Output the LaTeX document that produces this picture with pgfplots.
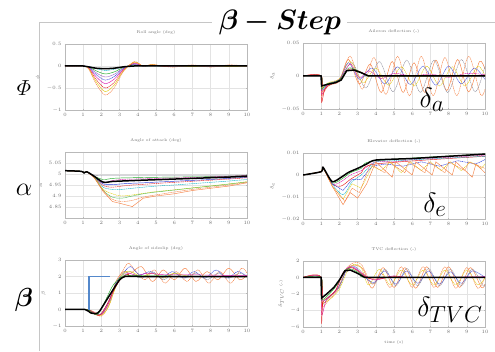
\documentclass[border=0pt]{standalone}
\usepackage{amsmath,bm}
\usepackage{pgfplots}
\pgfplotsset{compat=1.18}
\usepackage{pgfplotstable}

\definecolor{cR}{RGB}{230,30,30}
\definecolor{cO}{RGB}{245,130,70}
\definecolor{cY}{RGB}{225,205,20}
\definecolor{cG}{RGB}{30,170,40}
\definecolor{cB}{RGB}{40,60,220}
\definecolor{cM}{RGB}{220,20,170}
\definecolor{cC}{RGB}{20,180,200}
\definecolor{cP}{RGB}{130,50,180}
\definecolor{cK}{RGB}{140,140,155}
\definecolor{stepblue}{RGB}{84,136,203}
\definecolor{txt}{RGB}{110,110,110}

\tikzset{
 ln/.style={line width=0.45pt, smooth, tension=0.5},
 sl/.style={line width=0.45pt},
 ds/.style={dash pattern=on 1.2pt off 0.6pt},
 dt/.style={dash pattern=on 0.5pt off 0.5pt},
 bk/.style={black, line width=1.5pt},
}
\pgfplotsset{
 sub/.style={scale only axis, width=182pt, height=66pt, anchor=south west,
  xmin=0, xmax=10, xtick={0,1,...,10},
  grid=major, major grid style={gray!22, line width=0.25pt},
  axis line style={gray!55, line width=0.3pt},
  major tick length=1.2pt, tick style={gray!55, line width=0.3pt},
  tick label style={font=\fontsize{3.6}{4}\selectfont, text=txt},
  title style={font=\fontsize{4}{4.5}\selectfont, text=txt},
  ylabel style={font=\fontsize{4}{4.5}\selectfont, text=txt},
  xlabel style={font=\fontsize{4}{4.5}\selectfont, text=txt},
  scaled ticks=false,
  /pgf/number format/fixed, /pgf/number format/precision=2,
 },
}

\pgfplotstableread{
t a b c d e f g h k
0 0 0 0 0 0 0 0 0 0
1 0 0 0 0 0 0 0 0 0
1.3 -0.01 -0.018 -0.025 -0.032 -0.04 -0.05 -0.058 -0.066 -0.02
1.7 -0.06 -0.108 -0.15 -0.19 -0.24 -0.30 -0.35 -0.40 -0.05
2.2 -0.10 -0.18 -0.25 -0.32 -0.40 -0.50 -0.58 -0.66 -0.06
2.7 -0.075 -0.135 -0.19 -0.24 -0.30 -0.375 -0.435 -0.50 -0.05
3.2 -0.02 -0.036 -0.05 -0.064 -0.08 -0.10 -0.116 -0.13 -0.02
3.8 0.015 0.027 0.038 0.048 0.06 0.075 0.087 0.10 0
4.3 0 0 0 0 0 0 0 0 0
4.8 0.006 0.011 0.015 0.019 0.024 0.03 0.035 0.04 0
5.3 0 0 0 0 0 0 0 0 0
6 0 0 0 0 0 0 0.01 -0.025 0
7 0 0 0 0 0 0 -0.01 0.025 0
8 0 0 0 0 0 0 0.01 -0.025 0
9 0 0 0 0 0 0 -0.01 0.025 0
10 0 0 0 0 0 0 0 0 0
}\rollT

\pgfplotstableread{
t k u1 u2 u3 u4 u5 u6 u7 u8 u9 u10
0 5.015 5.015 5.015 5.015 5.015 5.015 5.015 5.015 5.015 5.015 5.015
0.9 5.012 5.012 5.012 5.012 5.012 5.012 5.012 5.012 5.012 5.012 5.012
1.05 5.005 5.005 5.005 5.005 5.005 5.005 5.005 5.005 5.005 5.005 5.005
1.2 5.01 5.01 5.01 5.01 5.01 5.01 5.01 5.01 5.01 5.01 5.01
1.6 4.99 4.995 4.99 4.99 4.988 4.987 4.986 4.985 4.985 4.984 4.984
2.1 4.963 4.995 4.975 4.96 4.955 4.948 4.94 4.93 4.925 4.92 4.925
2.6 4.966 4.995 4.98 4.97 4.952 4.94 4.93 4.91 4.895 4.875 4.885
3.1 4.968 4.995 4.982 4.975 4.955 4.945 4.93 4.90 4.89 4.865 4.875
3.7 4.970 4.995 4.983 4.977 4.958 4.95 4.935 4.905 4.90 4.852 4.88
4.3 4.972 4.995 4.984 4.978 4.96 4.953 4.94 4.912 4.91 4.89 4.895
5 4.974 4.995 4.985 4.98 4.963 4.957 4.945 4.92 4.918 4.9 4.905
6 4.977 4.995 4.986 4.982 4.967 4.962 4.95 4.928 4.927 4.91 4.918
7 4.98 4.995 4.987 4.984 4.971 4.967 4.956 4.937 4.936 4.925 4.93
8 4.983 4.995 4.988 4.987 4.975 4.972 4.962 4.946 4.945 4.935 4.94
9 4.986 4.995 4.99 4.99 4.98 4.977 4.968 4.955 4.954 4.945 4.95
10 4.99 4.995 4.993 4.993 4.985 4.983 4.975 4.965 4.964 4.96 4.962
}\aoaT

\begin{document}
\begin{tikzpicture}
\useasboundingbox (0,0) rectangle (495pt,351pt);
% frame and big labels
\draw[gray!45, line width=0.8pt] (39pt,0pt) -- (39pt,329pt) -- (212pt,329pt);
\draw[gray!45, line width=0.8pt] (347pt,329pt) -- (495pt,329pt);
\node[scale=1.13, inner sep=0pt] at (280pt,329pt) {\fontsize{24.88}{26}\selectfont $\boldsymbol{\beta - Step}$};
\node[scale=1.05] at (24pt,263pt) {\fontsize{20.74}{22}\selectfont $\varPhi$};
\node[scale=1.05] at (24pt,161pt) {\fontsize{24.88}{26}\selectfont $\alpha$};
\node[scale=1.05] at (24pt,51pt) {\fontsize{24.88}{26}\selectfont $\boldsymbol{\beta}$};

% ---------- Roll angle
\begin{axis}[sub, at={(65pt,241pt)}, ymin=-1, ymax=0.5, ytick={-1,-0.5,0,0.5},
  title={Roll angle (deg)}, ylabel={$\phi$}]
\addplot[ln,cC,ds] table[x=t,y=a]{\rollT};
\addplot[ln,cG] table[x=t,y=b]{\rollT};
\addplot[ln,cP,dt] table[x=t,y=c]{\rollT};
\addplot[ln,cB,ds] table[x=t,y=d]{\rollT};
\addplot[ln,cM] table[x=t,y=e]{\rollT};
\addplot[ln,cR,ds] table[x=t,y=f]{\rollT};
\addplot[ln,cY] table[x=t,y=g]{\rollT};
\addplot[ln,cO,ds] table[x=t,y=h]{\rollT};
\addplot[bk,smooth,tension=0.5] table[x=t,y=k]{\rollT};
\end{axis}

% ---------- Aileron
\begin{axis}[sub, at={(303pt,242pt)}, ymin=-0.05, ymax=0.05, ytick={-0.05,0,0.05},
  title={Aileron deflection (-)}, ylabel={$\delta_a$}]
\addplot[ln,cO,ds] coordinates {(0,0)(1,0)(1.02,-0.03)(1.4,-0.014)(2,-0.008)(2.6,0.03)(3.25,-0.02)(3.9,0.028)(4.55,-0.028)(5.2,0.03)(5.85,-0.03)(6.5,0.03)(7.15,-0.03)(7.8,0.028)(8.45,-0.03)(9.1,0.03)(9.75,-0.028)(10,-0.02)};
\addplot[ln,cO] coordinates {(0,0)(1,0)(1.02,-0.025)(1.4,-0.012)(2,-0.006)(2.5,0.025)(3.1,-0.012)(3.7,0.018)(4.3,-0.025)(4.9,0.022)(5.5,-0.025)(6.1,0.02)(6.7,-0.025)(7.3,0.024)(7.9,-0.022)(8.5,0.025)(9.1,-0.024)(9.7,0.022)(10,0.01)};
\addplot[ln,cK,ds] coordinates {(0,0)(1,0)(1.02,-0.02)(1.4,-0.012)(2,-0.005)(2.7,0.02)(3.45,-0.018)(4.2,0.022)(4.95,-0.024)(5.7,0.024)(6.45,-0.025)(7.2,0.024)(7.95,-0.025)(8.7,0.025)(9.45,-0.024)(10,0.015)};
\addplot[ln,cY,ds] coordinates {(0,0)(1,0)(1.02,-0.018)(1.4,-0.01)(2,-0.004)(2.6,0.022)(3.3,-0.01)(4,0.012)(4.7,-0.014)(5.4,0.014)(6.1,-0.015)(6.8,0.015)(7.5,-0.015)(8.2,0.014)(8.9,-0.015)(9.6,0.015)(10,0)};
\addplot[ln,cB,dt] coordinates {(0,0)(1,0)(1.02,-0.022)(1.4,-0.012)(2,-0.006)(2.5,0.02)(3.1,-0.005)(3.8,0.012)(4.5,-0.012)(5.2,0.014)(5.9,-0.013)(6.6,0.015)(7.3,-0.014)(8,0.015)(8.7,-0.012)(9.4,0.012)(10,-0.005)};
\addplot[ln,cM,ds] coordinates {(0,0)(1,0)(1.02,-0.028)(1.4,-0.012)(2,-0.005)(2.6,0.018)(3.1,-0.003)(3.6,0.008)(4.3,-0.004)(5,0.004)(6,0)(7,0.003)(8,-0.002)(9,0.004)(10,0.002)};
\addplot[ln,cR] coordinates {(0,0)(1,0)(1.02,-0.04)(1.2,-0.02)(1.6,-0.012)(2,-0.008)(2.5,0.01)(3,0.008)(3.5,0.002)(4,0)(10,0)};
\addplot[ln,cG] coordinates {(0,0)(1,0)(1.02,-0.02)(1.3,-0.012)(2,-0.006)(2.5,0.012)(3,0.008)(3.5,0.001)(4,0)(10,0)};
\addplot[bk] coordinates {(0,0)(0.99,0)(1.02,-0.015)(1.3,-0.013)(1.8,-0.01)(2.1,-0.006)(2.4,0.008)(2.8,0.009)(3.2,0.005)(3.6,0)(10,0)};
\end{axis}

% ---------- Angle of attack
\begin{axis}[sub, at={(65pt,133pt)}, ymin=4.8, ymax=5.1, ytick={4.85,4.9,4.95,5,5.05},
  title={Angle of attack (deg)}, ylabel={$\alpha$}]
\addplot[ln,cK] table[x=t,y=u1]{\aoaT};
\addplot[ln,cG] table[x=t,y=u2]{\aoaT};
\addplot[ln,cM,ds] table[x=t,y=u3]{\aoaT};
\addplot[ln,cB] table[x=t,y=u4]{\aoaT};
\addplot[ln,cR,ds] table[x=t,y=u5]{\aoaT};
\addplot[ln,cC,ds] table[x=t,y=u6]{\aoaT};
\addplot[ln,cY,ds] table[x=t,y=u7]{\aoaT};
\addplot[ln,cG,dt] table[x=t,y=u8]{\aoaT};
\addplot[sl,cO] table[x=t,y=u9]{\aoaT};
\addplot[ln,cO,ds] table[x=t,y=u10]{\aoaT};
\addplot[bk,smooth,tension=0.5] table[x=t,y=k]{\aoaT};
\end{axis}

% ---------- Elevator
\begin{axis}[sub, at={(303pt,132pt)}, ymin=-0.02, ymax=0.01, ytick={-0.02,-0.01,0,0.01},
  title={Elevator deflection (-)}, ylabel={$\delta_e$}]
\addplot[ln,cG] coordinates {(0,0)(1,0.0015)(1.1,0.0035)(1.6,-0.0035)(2.1,-0.002)(2.6,0.001)(3.2,0.003)(4,0.0065)(10,0.0095)};
\addplot[ln,cM,ds] coordinates {(0,0)(1,0.0015)(1.1,0.0035)(1.6,-0.004)(2.1,-0.003)(2.6,0)(3.2,0.002)(4,0.006)(5,0.006)(6,0.007)(7,0.0075)(8,0.008)(9,0.0085)(10,0.009)};
\addplot[ln,cR] coordinates {(0,0)(1,0.0015)(1.1,0.0035)(1.6,-0.004)(2.1,-0.005)(2.6,-0.002)(3.2,0.001)(4,0.005)(10,0.0085)};
\addplot[ln,cC,ds] coordinates {(0,0)(1,0.0015)(1.1,0.0035)(1.6,-0.004)(2.2,-0.009)(2.7,-0.003)(3.2,0)(4,0.006)(5,0.0065)(10,0.0085)};
\addplot[sl,cB,ds] coordinates {(0,0)(1,0.0015)(1.1,0.0035)(1.6,-0.004)(2.2,-0.007)(2.7,-0.002)(3.2,-0.002)(3.8,0.004)(4.5,0.005)(5.5,0.004)(6.5,0.006)(7.5,0.004)(8.5,0.0065)(9.5,0.005)(10,0.007)};
\addplot[sl,cY,ds] coordinates {(0,0)(1,0.0015)(1.1,0.0035)(1.6,-0.005)(2.2,-0.011)(2.7,-0.004)(3.2,-0.006)(3.8,0.004)(4.3,0.002)(4.8,0.006)(5.4,0.001)(5.9,0.006)(6.5,0.002)(7,0.006)(7.6,0.002)(8.1,0.006)(8.7,0.002)(9.2,0.006)(9.8,0.003)(10,0.005)};
\addplot[sl,cO] coordinates {(0,0)(1,0.0015)(1.1,0.0035)(1.6,-0.005)(2.2,-0.0135)(2.6,-0.008)(3,-0.0105)(3.5,-0.004)(4,0.006)(4.9,-0.001)(5.1,0.006)(6,0)(6.2,0.006)(7.1,0)(7.3,0.006)(8.2,0)(8.4,0.006)(9.3,-0.001)(9.5,0.005)(10,0.001)};
\addplot[sl,cO,ds] coordinates {(0,0)(1,0.0015)(1.1,0.0035)(1.6,-0.005)(2.3,-0.012)(2.7,-0.006)(3.1,-0.008)(3.7,0.005)(4.5,0.001)(4.7,0.006)(5.6,0.001)(5.8,0.006)(6.7,0.001)(6.9,0.006)(7.8,0.001)(8,0.006)(8.9,0.002)(9.1,0.006)(10,0.003)};
\addplot[bk,smooth,tension=0.4] coordinates {(0,0)(1,0.0015)(1.1,0.0035)(1.6,-0.003)(2.1,-0.001)(2.5,0.0012)(3,0.003)(3.5,0.005)(4,0.0068)(6,0.0075)(8,0.0085)(10,0.0095)};
\end{axis}

% ---------- Sideslip
\begin{axis}[sub, at={(65pt,25pt)}, ymin=-1, ymax=3, ytick={-1,0,1,2,3},
  title={Angle of sideslip (deg)}, ylabel={$\beta$}]
\addplot[ln,cO,ds] coordinates {(0,0)(1.2,0)(1.6,-0.2)(2,-0.4)(2.4,0.2)(2.8,1.5)(3.2,2.4)(3.5,2.8)(3.9,2.3)(4.4,1.8)(4.9,2.4)(5.5,1.6)(6.1,2.3)(6.7,1.7)(7.3,2.4)(7.9,1.6)(8.5,2.3)(9.1,1.6)(9.7,2.5)(10,2.2)};
\addplot[ln,cO] coordinates {(0,0)(1.2,0)(1.6,-0.15)(2,-0.3)(2.4,0.4)(2.8,1.7)(3.2,2.3)(3.6,2.2)(4.2,2.6)(4.8,1.7)(5.4,2.4)(6,1.8)(6.6,2.5)(7.2,1.7)(7.8,2.3)(8.4,1.8)(9,2.5)(9.6,1.8)(10,2.1)};
\addplot[ln,cB,ds] coordinates {(0,0)(1.2,0)(1.6,-0.2)(2,-0.25)(2.4,0.5)(2.8,1.6)(3.2,2.2)(3.6,2.6)(4.1,2.1)(4.7,2.3)(5.3,1.9)(5.9,2.3)(6.5,1.9)(7.1,2.3)(7.7,1.9)(8.3,2.4)(8.9,1.9)(9.5,2.3)(10,2)};
\addplot[ln,cK,ds] coordinates {(0,0)(1.2,0)(1.6,-0.2)(2,-0.3)(2.4,0.3)(2.8,1.4)(3.2,2.1)(3.6,2.3)(4.2,1.9)(4.8,2.3)(5.4,1.8)(6,2.2)(6.6,1.9)(7.2,2.2)(7.8,1.8)(8.4,2.2)(9,1.9)(9.6,2.2)(10,2)};
\addplot[ln,cY] coordinates {(0,0)(1.2,0)(1.6,-0.2)(2,-0.35)(2.4,0.2)(2.8,1.4)(3.2,2.2)(3.6,2.3)(4.2,2)(4.8,2.2)(5.4,1.9)(6,2.2)(7,2)(10,2)};
\addplot[ln,cM] coordinates {(0,0)(1.2,0)(1.6,-0.2)(2,-0.3)(2.4,0.4)(2.8,1.5)(3.2,2)(3.5,2.2)(4,2.05)(4.5,2.2)(5.5,2.1)(7,2.1)(10,2.05)};
\addplot[ln,cR] coordinates {(0,0)(1.2,0)(1.5,-0.2)(1.9,-0.35)(2.3,0.3)(2.7,1.2)(3.1,1.9)(3.5,2.15)(4,2)(10,2)};
\addplot[ln,cG] coordinates {(0,0)(1.2,0)(1.5,-0.2)(1.8,-0.3)(2.2,0.5)(2.6,1.4)(3,1.9)(3.4,2.1)(4,2.05)(10,2)};
\addplot[bk,smooth,tension=0.4] coordinates {(0,0)(1.1,0)(1.4,-0.2)(1.7,-0.25)(1.9,-0.1)(2.3,0.6)(2.7,1.3)(3,1.8)(3.3,2)(4,2)(10,2)};
\addplot[stepblue, line width=1.8pt] coordinates {(1.3,0)(1.3,2)(2.45,2)};
\end{axis}

% ---------- TVC
\begin{axis}[sub, at={(303pt,24pt)}, ymin=-6, ymax=2, ytick={-6,-4,-2,0,2},
  title={TVC deflection (-)}, ylabel={$\delta_{TVC}$ (-)}, xlabel={time (s)}]
\addplot[ln,cO,ds] coordinates {(0,0)(1,0)(1.02,-3.5)(1.4,-2.8)(1.9,-1.5)(2.3,0.8)(2.7,1.7)(3.2,1.6)(3.8,-0.8)(4.3,0.5)(4.8,-1.2)(5.4,1.3)(6,-1.2)(6.6,1.3)(7.2,-1.2)(7.8,1.3)(8.4,-1.3)(9,1.2)(9.6,-1.3)(10,0)};
\addplot[ln,cO] coordinates {(0,0)(1,0)(1.02,-3)(1.4,-2.6)(2,-1)(2.4,1)(2.8,1.5)(3.3,1)(3.8,-1.3)(4.4,1.2)(5,-1.2)(5.6,1.2)(6.2,-1.3)(6.8,1.3)(7.4,-1.2)(8,1.3)(8.6,-1.2)(9.2,1.2)(9.8,-1.2)(10,-0.8)};
\addplot[ln,cK,ds] coordinates {(0,0)(1,0)(1.02,-3.2)(1.4,-2.5)(2,-1.2)(2.4,1)(2.8,1.4)(3.3,0.5)(3.9,-0.8)(4.5,1)(5.1,-1)(5.7,1.1)(6.3,-1)(6.9,1.1)(7.5,-1)(8.1,1)(8.7,-1)(9.3,1)(9.9,-1)(10,-0.8)};
\addplot[ln,cY,ds] coordinates {(0,0)(1,0)(1.02,-3)(1.5,-2.6)(2,-1.4)(2.4,0.6)(2.8,1.6)(3.2,1.2)(3.6,-0.9)(4.2,1)(4.8,-0.9)(5.4,0.9)(6,-0.9)(6.6,0.9)(7.2,-0.9)(7.8,0.9)(8.4,-0.9)(9,0.9)(9.6,-0.9)(10,0)};
\addplot[ln,cB,dt] coordinates {(0,0)(1,0)(1.02,-2.8)(1.5,-2.2)(2,-1)(2.4,0.9)(2.8,1.3)(3.3,0.2)(3.9,-0.6)(4.5,0.8)(5.1,-0.8)(5.7,0.8)(6.3,-0.7)(6.9,0.8)(7.5,-0.8)(8.1,0.7)(8.7,-0.7)(9.3,0.8)(10,0)};
\addplot[ln,cM] coordinates {(0,0)(1,0)(1.02,-4.5)(1.3,-2.6)(1.8,-1.6)(2.2,0.6)(2.6,1.3)(3,0.9)(3.5,0.1)(4,-0.3)(5,0.2)(6,0)(10,0.1)};
\addplot[ln,cR] coordinates {(0,0)(1,0)(1.02,-5.5)(1.1,-3)(1.4,-2.4)(1.8,-1.5)(2.2,0.5)(2.6,1.2)(3,0.8)(3.5,0)(4,-0.2)(5,0.1)(6,0)(10,0)};
\addplot[ln,cG] coordinates {(0,0)(1,0)(1.02,-2.6)(1.4,-2.1)(1.9,-0.8)(2.3,0.9)(2.7,1)(3.2,0.4)(3.7,0)(10,0)};
\addplot[bk] coordinates {(0,0)(0.99,0)(1.02,-2.5)(1.3,-2)(1.7,-1.2)(2,-0.3)(2.3,0.8)(2.6,0.9)(3,0.5)(3.4,0)(10,0)};
\end{axis}

\node[scale=1.12, inner sep=0pt] at (432pt,251pt) {\fontsize{24.88}{26}\selectfont $\delta_a$};
\node[scale=1.12, inner sep=0pt] at (435pt,146pt) {\fontsize{24.88}{26}\selectfont $\delta_e$};
\node[scale=1.12, inner sep=0pt] at (450pt,41pt) {\fontsize{24.88}{26}\selectfont $\delta_{TVC}$};
\end{tikzpicture}
\end{document}
